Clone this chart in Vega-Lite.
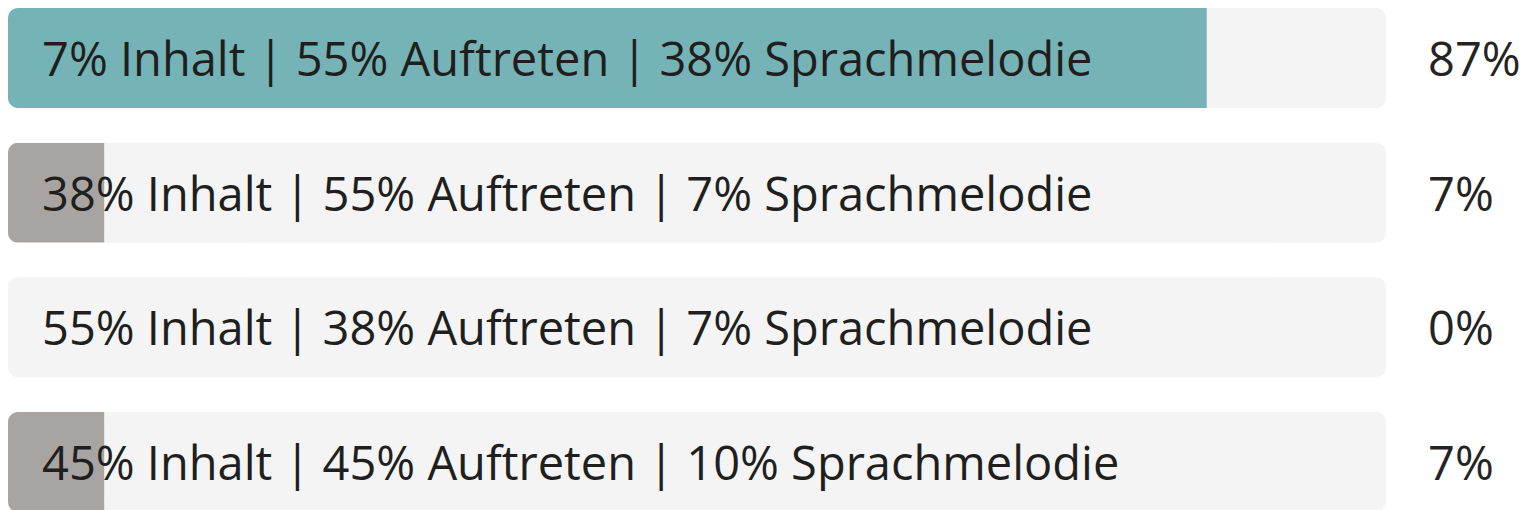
{
  "$schema": "https://vega.github.io/schema/vega-lite/v6.json",
  "autosize": {"type": "none"},
  "padding": {"left": 8, "top": 8, "right": 144, "bottom": 0},
  "width": 1378,
  "height": 504,
  "background": "white",
  "config": {"view": {"stroke": null}},
  "data": {"values": [
    {"answer": "7% Inhalt | 55% Auftreten | 38% Sprachmelodie", "pct": 87, "pctLabel": "87%"},
    {"answer": "38% Inhalt | 55% Auftreten | 7% Sprachmelodie", "pct": 7, "pctLabel": "7%"},
    {"answer": "55% Inhalt | 38% Auftreten | 7% Sprachmelodie", "pct": 0, "pctLabel": "0%"},
    {"answer": "45% Inhalt | 45% Auftreten | 10% Sprachmelodie", "pct": 7, "pctLabel": "7%"}
  ]},
  "encoding": {
    "y": {"field": "answer", "type": "nominal", "sort": null, "axis": null,
          "scale": {"paddingInner": 0.258, "paddingOuter": 0}}
  },
  "layer": [
    {
      "mark": {"type": "bar", "color": "#f4f4f4", "cornerRadius": 10},
      "encoding": {
        "x": {"datum": 100, "type": "quantitative", "scale": {"domain": [0, 100], "nice": false}, "axis": null},
        "x2": {"datum": 0}
      }
    },
    {
      "mark": {"type": "bar", "cornerRadiusTopLeft": 10, "cornerRadiusBottomLeft": 10},
      "encoding": {
        "x": {"field": "pct", "type": "quantitative", "axis": null},
        "color": {"condition": {"test": "datum.pct > 50", "value": "#75b3b6"}, "value": "#a8a4a1"}
      }
    },
    {
      "mark": {"type": "text", "align": "left", "baseline": "middle", "font": "Open Sans", "fontSize": 47, "color": "#201f1e", "dy": 4},
      "encoding": {
        "x": {"datum": 2.47, "type": "quantitative"},
        "text": {"field": "answer"}
      }
    },
    {
      "mark": {"type": "text", "align": "left", "baseline": "middle", "font": "Open Sans", "fontSize": 47, "color": "#252423", "dy": 4},
      "encoding": {
        "x": {"datum": 103.05, "type": "quantitative"},
        "text": {"field": "pctLabel"}
      }
    }
  ]
}
